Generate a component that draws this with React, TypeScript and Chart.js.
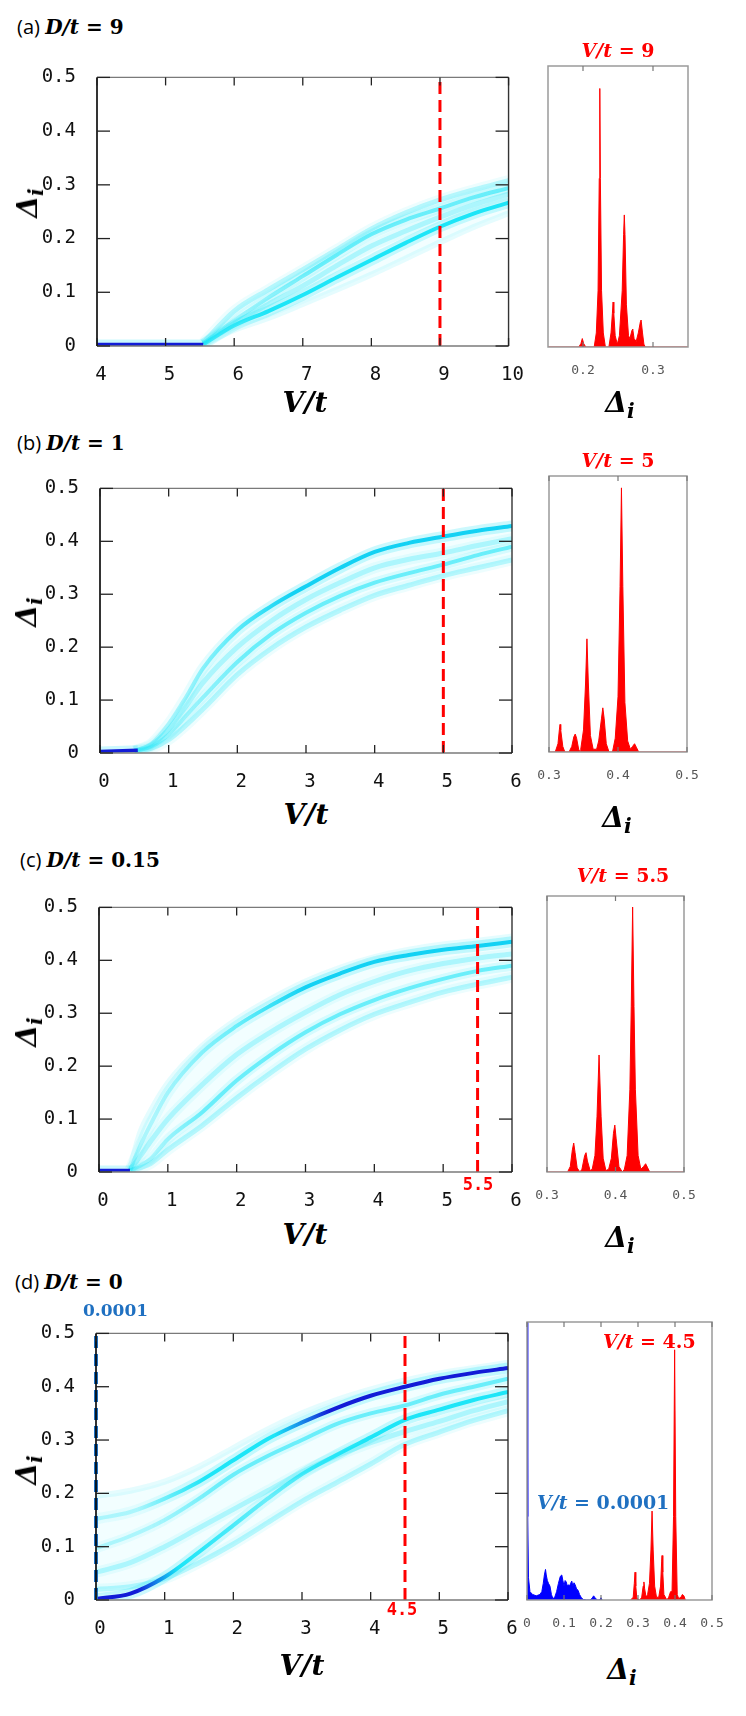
import { useEffect, useRef, type ReactNode } from 'react'
import { Chart, registerables, type Plugin } from 'chart.js'

Chart.register(...registerables)

const MONO = '"DejaVu Sans Mono", monospace'
const MATH = '"DejaVu Serif", serif'
const SANS = '"Open Sans", sans-serif'
const RED = '#ff0000'
const LABEL_BLUE = '#1f70c1'
const DEEP_BLUE = 'rgb(18, 28, 215)'

// ---------- ticks ----------
const MAIN_Y_TICKS = [0, 0.1, 0.2, 0.3, 0.4, 0.5]
const A_X_TICKS = [4, 5, 6, 7, 8, 9, 10]
const V_TICKS = [0, 1, 2, 3, 4, 5, 6]
const A_HIST_TICKS = [0.2, 0.3]
const BC_HIST_TICKS = [0.3, 0.4, 0.5]
const D_HIST_TICKS = [0, 0.1, 0.2, 0.3, 0.4, 0.5]

// ---------- (a) D/t = 9 ----------
const A_ZERO_V = [4, 5.55]
const A_ZERO = [0.003, 0.003]
const A_V = [5.55, 6, 6.5, 7, 7.5, 8, 8.5, 9, 9.5, 10]
const A_LOW = [0.003, 0.038, 0.065, 0.095, 0.128, 0.16, 0.192, 0.222, 0.247, 0.267]
const A_UP = [0.005, 0.047, 0.09, 0.13, 0.17, 0.208, 0.235, 0.256, 0.277, 0.294]
const A_MID = [0.004, 0.042, 0.078, 0.112, 0.15, 0.186, 0.214, 0.24, 0.263, 0.283]
const A_TOP = [0.006, 0.065, 0.105, 0.142, 0.18, 0.218, 0.248, 0.272, 0.291, 0.308]
const A_BOT = [0.003, 0.03, 0.052, 0.078, 0.105, 0.133, 0.163, 0.193, 0.222, 0.247]
const A_HIST: [number, number][] = [
  [0.15, 0], [0.194, 0], [0.197, 0.012], [0.199, 0.03], [0.201, 0.012], [0.204, 0],
  [0.216, 0], [0.219, 0.05], [0.2215, 0.2], [0.2232, 0.6], [0.224, 0.92], [0.2248, 0.6], [0.2265, 0.2], [0.229, 0.05], [0.232, 0],
  [0.237, 0], [0.24, 0.05], [0.242, 0.12], [0.243, 0.16], [0.244, 0.12], [0.246, 0.04], [0.249, 0.01],
  [0.252, 0.04], [0.256, 0.2], [0.258, 0.4], [0.259, 0.47], [0.26, 0.4], [0.262, 0.15], [0.265, 0.04],
  [0.267, 0.03], [0.27, 0.06], [0.271, 0.064], [0.273, 0.03], [0.276, 0.02], [0.279, 0.05], [0.282, 0.09],
  [0.283, 0.096], [0.285, 0.05], [0.287, 0.01], [0.289, 0], [0.35, 0],
]

// ---------- (b) D/t = 1 ----------
const B_ZERO_V = [0, 0.55]
const B_ZERO = [0.003, 0.005]
const B_V = [0.5, 0.75, 1, 1.25, 1.5, 2, 2.5, 3, 3.5, 4, 4.5, 5, 5.5, 6]
const B_UP = [0.004, 0.018, 0.055, 0.105, 0.16, 0.232, 0.278, 0.315, 0.35, 0.38, 0.397, 0.409, 0.42, 0.429]
const B_LOW = [0.004, 0.012, 0.035, 0.07, 0.105, 0.172, 0.225, 0.265, 0.297, 0.322, 0.34, 0.356, 0.374, 0.39]
const B_MID = [0.004, 0.015, 0.045, 0.088, 0.133, 0.2, 0.25, 0.29, 0.322, 0.35, 0.366, 0.378, 0.392, 0.405]
const B_BOT = [0.003, 0.009, 0.025, 0.052, 0.083, 0.148, 0.198, 0.238, 0.27, 0.298, 0.317, 0.335, 0.35, 0.365]
const B_HIST: [number, number][] = [
  [0.3, 0], [0.309, 0], [0.313, 0.03], [0.315, 0.08], [0.316, 0.1], [0.317, 0.08], [0.32, 0.02], [0.323, 0],
  [0.329, 0], [0.333, 0.02], [0.336, 0.055], [0.338, 0.065], [0.34, 0.05], [0.343, 0.01], [0.345, 0],
  [0.346, 0.01], [0.35, 0.08], [0.353, 0.25], [0.355, 0.41], [0.357, 0.25], [0.36, 0.06], [0.364, 0.01], [0.369, 0.01],
  [0.372, 0.04], [0.376, 0.12], [0.378, 0.16], [0.38, 0.12], [0.383, 0.03], [0.387, 0],
  [0.392, 0], [0.396, 0.05], [0.4, 0.2], [0.403, 0.6], [0.405, 0.957], [0.407, 0.6], [0.41, 0.18], [0.414, 0.04], [0.418, 0.01],
  [0.421, 0.02], [0.424, 0.03], [0.427, 0.015], [0.43, 0], [0.5, 0],
]

// ---------- (c) D/t = 0.15 ----------
const C_ZERO_V = [0, 0.45]
const C_ZERO = [0.003, 0.003]
const C_V = [0.45, 0.6, 0.75, 1, 1.5, 2, 2.5, 3, 3.5, 4, 4.5, 5, 5.5, 6]
const C_UP = [0.004, 0.05, 0.09, 0.15, 0.226, 0.276, 0.315, 0.349, 0.375, 0.397, 0.41, 0.42, 0.427, 0.435]
const C_LOW = [0.003, 0.012, 0.025, 0.062, 0.113, 0.173, 0.222, 0.264, 0.298, 0.325, 0.347, 0.365, 0.38, 0.39]
const C_MID = [0.004, 0.03, 0.058, 0.1, 0.165, 0.222, 0.265, 0.302, 0.335, 0.36, 0.38, 0.394, 0.404, 0.412]
const C_BOT = [0.002, 0.008, 0.016, 0.042, 0.088, 0.14, 0.188, 0.232, 0.268, 0.298, 0.32, 0.34, 0.355, 0.368]
const C_TOP = [0.006, 0.075, 0.115, 0.168, 0.238, 0.288, 0.327, 0.36, 0.386, 0.406, 0.42, 0.43, 0.437, 0.445]
const C_HIST: [number, number][] = [
  [0.3, 0], [0.33, 0], [0.334, 0.02], [0.337, 0.08], [0.339, 0.105], [0.341, 0.07], [0.344, 0.015], [0.348, 0],
  [0.351, 0.01], [0.355, 0.06], [0.357, 0.07], [0.359, 0.04], [0.363, 0.005], [0.366, 0.01],
  [0.37, 0.06], [0.373, 0.2], [0.376, 0.424], [0.379, 0.2], [0.382, 0.05], [0.386, 0.005], [0.39, 0.01],
  [0.394, 0.05], [0.397, 0.14], [0.399, 0.17], [0.401, 0.12], [0.405, 0.02], [0.41, 0],
  [0.413, 0.01], [0.417, 0.06], [0.421, 0.3], [0.423, 0.6], [0.425, 0.96], [0.427, 0.6], [0.429, 0.3], [0.433, 0.06], [0.437, 0.01],
  [0.441, 0.02], [0.444, 0.03], [0.447, 0.015], [0.45, 0], [0.5, 0],
]

// ---------- (d) D/t = 0 ----------
const D_V = [0, 0.5, 1, 1.5, 2, 2.5, 3, 3.5, 4, 4.5, 5, 5.5, 6]
const D_UP = [0.152, 0.165, 0.19, 0.222, 0.262, 0.302, 0.333, 0.36, 0.383, 0.4, 0.415, 0.426, 0.435]
const D_LOW = [0.002, 0.012, 0.043, 0.09, 0.14, 0.19, 0.236, 0.272, 0.305, 0.338, 0.357, 0.375, 0.39]
const D_MID1 = [0.097, 0.12, 0.15, 0.19, 0.235, 0.27, 0.3, 0.33, 0.35, 0.365, 0.385, 0.4, 0.415]
const D_MID2 = [0.052, 0.07, 0.1, 0.135, 0.17, 0.205, 0.24, 0.27, 0.295, 0.316, 0.335, 0.355, 0.372]
const D_BOT = [0.02, 0.025, 0.04, 0.07, 0.105, 0.145, 0.185, 0.22, 0.255, 0.292, 0.315, 0.337, 0.355]
const D_TOP = [0.195, 0.205, 0.222, 0.25, 0.285, 0.32, 0.35, 0.375, 0.395, 0.412, 0.425, 0.435, 0.445]
const D_HIST_RED: [number, number][] = [
  [0.28, 0], [0.287, 0.01], [0.29, 0.06], [0.292, 0.1], [0.294, 0.05], [0.297, 0.005], [0.305, 0],
  [0.31, 0.01], [0.314, 0.05], [0.316, 0.065], [0.318, 0.04], [0.322, 0.01], [0.326, 0.02],
  [0.331, 0.06], [0.335, 0.18], [0.338, 0.32], [0.341, 0.18], [0.345, 0.05], [0.35, 0.01], [0.356, 0.01],
  [0.361, 0.05], [0.364, 0.14], [0.365, 0.16], [0.367, 0.1], [0.37, 0.02], [0.378, 0],
  [0.383, 0.01], [0.388, 0.03], [0.392, 0.03], [0.396, 0.3], [0.399, 0.9], [0.402, 0.3], [0.406, 0.02], [0.41, 0.005],
  [0.416, 0.01], [0.42, 0.02], [0.424, 0.015], [0.428, 0],
]
const D_HIST_BLUE: [number, number][] = [
  [0, 1.0], [0.002, 0.3], [0.004, 0.08], [0.008, 0.03], [0.015, 0.02], [0.025, 0.015], [0.035, 0.02],
  [0.04, 0.03], [0.044, 0.06], [0.047, 0.09], [0.05, 0.11], [0.052, 0.09], [0.055, 0.07], [0.058, 0.06],
  [0.062, 0.05], [0.066, 0.02], [0.07, 0.005], [0.075, 0.01], [0.08, 0.03], [0.085, 0.06], [0.09, 0.085],
  [0.094, 0.09], [0.097, 0.07], [0.1, 0.05], [0.103, 0.07], [0.106, 0.065], [0.109, 0.05], [0.112, 0.055],
  [0.115, 0.05], [0.118, 0.06], [0.121, 0.068], [0.124, 0.05], [0.127, 0.062], [0.13, 0.055], [0.134, 0.04],
  [0.138, 0.035], [0.142, 0.02], [0.147, 0.008], [0.152, 0.002], [0.16, 0], [0.17, 0], [0.176, 0.006],
  [0.18, 0.015], [0.184, 0.008], [0.19, 0], [0.196, 0], [0.2, 0.008], [0.203, 0],
]

// ---------- styles ----------
type Kind = 'blue' | 'deep' | 'bright' | 'medium' | 'faint' | 'ghost'
// ramp: intensity stops along V/t, turned into a horizontal gradient
type Band = { v: number[]; d: number[]; kind: Kind; ramp?: [number, Kind][] }
type Box = { left: number; top: number; right: number; bottom: number }
type Marker = { x: number; color: string; width?: number }

const KIND_STYLE: Record<Kind, { core: string; width: number; halo?: string; haloWidth?: number }> = {
  blue: { core: DEEP_BLUE, width: 3.5, halo: 'rgba(0, 222, 245, 0.2)', haloWidth: 10 },
  deep: { core: 'rgba(0, 205, 242, 0.9)', width: 4, halo: 'rgba(0, 222, 245, 0.2)', haloWidth: 11 },
  bright: { core: 'rgba(0, 226, 246, 0.85)', width: 4, halo: 'rgba(0, 226, 246, 0.2)', haloWidth: 11 },
  medium: { core: 'rgba(0, 226, 246, 0.5)', width: 4, halo: 'rgba(0, 226, 246, 0.12)', haloWidth: 10 },
  faint: { core: 'rgba(0, 226, 246, 0.24)', width: 5, halo: 'rgba(0, 226, 246, 0.07)', haloWidth: 11 },
  ghost: { core: 'rgba(0, 226, 246, 0.1)', width: 6 },
}
const FAN_FILL = 'rgba(0, 226, 246, 0.05)'

const PAD_T = 14
const PAD_R = 16
const X_AXIS_H = 44
const H_PAD = 22
const H_PAD_T = 6
const H_AXIS_H = 30

const fmt = (v: number) => (v === 0 ? '0' : Number.isInteger(v) ? String(v) : v.toFixed(1))

function line(ctx: CanvasRenderingContext2D, x1: number, y1: number, x2: number, y2: number) {
  ctx.beginPath()
  ctx.moveTo(x1, y1)
  ctx.lineTo(x2, y2)
  ctx.stroke()
}

function rampColor(ramp: [number, Kind][], pick: (k: Kind) => string, fallback: string) {
  return (c: any) => {
    const chart = c.chart
    const area = chart.chartArea
    if (!area) return fallback
    const xs = chart.scales.x
    const g = chart.ctx.createLinearGradient(area.left, 0, area.right, 0)
    for (const [v, k] of ramp) {
      const t = (xs.getPixelForValue(v) - area.left) / (area.right - area.left)
      g.addColorStop(Math.min(1, Math.max(0, t)), pick(k))
    }
    return g
  }
}

function mainFrame(xTicks: number[]): Plugin<'scatter'> {
  return {
    id: 'mainFrame',
    afterDraw(chart) {
      const { ctx, chartArea: a, scales } = chart
      ctx.save()
      ctx.lineWidth = 1.4
      ctx.strokeStyle = '#7a7a7a'
      line(ctx, a.left, a.top, a.right, a.top)
      line(ctx, a.left, a.bottom, a.right, a.bottom)
      ctx.strokeStyle = '#333'
      line(ctx, a.right, a.top, a.right, a.bottom)
      ctx.strokeStyle = '#000'
      ctx.lineWidth = 1.6
      line(ctx, a.left, a.top, a.left, a.bottom)
      ctx.lineWidth = 1.3
      ctx.strokeStyle = '#222'
      for (const v of xTicks) {
        const px = scales.x.getPixelForValue(v)
        line(ctx, px, a.bottom, px, a.bottom - 8)
        line(ctx, px, a.top, px, a.top + 8)
      }
      for (const v of MAIN_Y_TICKS) {
        const py = scales.y.getPixelForValue(v)
        line(ctx, a.left, py, a.left + 13, py)
        line(ctx, a.right, py, a.right - 13, py)
      }
      ctx.restore()
    },
  }
}

function histFrame(ticks: number[]): Plugin<'scatter'> {
  return {
    id: 'histFrame',
    afterDraw(chart) {
      const { ctx, chartArea: a, scales } = chart
      ctx.save()
      ctx.lineWidth = 1.5
      ctx.strokeStyle = '#9a9a9a'
      ctx.strokeRect(a.left, a.top, a.right - a.left, a.bottom - a.top)
      ctx.strokeStyle = '#777'
      ctx.lineWidth = 1.2
      for (const v of ticks) {
        const px = scales.x.getPixelForValue(v)
        line(ctx, px, a.top, px, a.top + 5)
        line(ctx, px, a.bottom, px, a.bottom - 5)
      }
      ctx.restore()
    },
  }
}

const pts = (v: number[], d: number[]) => v.map((x, i) => ({ x, y: d[i] }))

function MainPlot({
  box, xMin, xMax, xTicks, bands, fan, markers,
}: {
  box: Box; xMin: number; xMax: number; xTicks: number[]; bands: Band[]
  fan: { v: number[]; upper: number[]; lower: number[] }; markers: Marker[]
}) {
  const ref = useRef<HTMLCanvasElement>(null)
  const width = box.right + PAD_R
  const height = box.bottom - box.top + PAD_T + X_AXIS_H

  useEffect(() => {
    const canvas = ref.current
    if (!canvas) return
    const markerSets = markers.map((m) => ({
      data: [{ x: m.x, y: 0 }, { x: m.x, y: 0.5 }],
      showLine: true,
      borderColor: m.color,
      borderWidth: m.width ?? 3,
      borderDash: [12, 6],
      pointRadius: 0,
      fill: false,
      clip: 8,
    }))
    const cores = bands.map((b) => {
      const s = KIND_STYLE[b.kind]
      return {
        data: pts(b.v, b.d),
        showLine: true,
        borderColor: b.ramp ? rampColor(b.ramp, (k) => KIND_STYLE[k].core, s.core) : s.core,
        borderWidth: s.width,
        pointRadius: 0,
        fill: false,
        cubicInterpolationMode: 'monotone' as const,
      }
    })
    const halos = bands
      .filter((b) => KIND_STYLE[b.kind].halo)
      .map((b) => {
        const s = KIND_STYLE[b.kind]
        return {
          data: pts(b.v, b.d),
          showLine: true,
          borderColor: b.ramp
            ? rampColor(b.ramp, (k) => KIND_STYLE[k].halo ?? 'rgba(0, 226, 246, 0.04)', s.halo!)
            : s.halo,
          borderWidth: s.haloWidth,
          pointRadius: 0,
          fill: false,
          cubicInterpolationMode: 'monotone' as const,
        }
      })
    const envelope = [
      {
        data: pts(fan.v, fan.upper),
        showLine: true,
        borderWidth: 0,
        borderColor: 'rgba(0,0,0,0)',
        backgroundColor: FAN_FILL,
        pointRadius: 0,
        fill: '+1',
        cubicInterpolationMode: 'monotone' as const,
      },
      {
        data: pts(fan.v, fan.lower),
        showLine: true,
        borderWidth: 0,
        borderColor: 'rgba(0,0,0,0)',
        pointRadius: 0,
        fill: false,
        cubicInterpolationMode: 'monotone' as const,
      },
    ]

    const chart = new Chart(canvas, {
      type: 'scatter',
      data: { datasets: [...markerSets, ...cores, ...halos, ...envelope] as any },
      options: {
        responsive: false,
        animation: false,
        events: [],
        layout: { padding: { top: PAD_T, right: PAD_R, bottom: 0, left: 0 } },
        plugins: { legend: { display: false }, tooltip: { enabled: false } },
        scales: {
          x: {
            type: 'linear',
            min: xMin,
            max: xMax,
            border: { display: false },
            grid: { display: false },
            afterBuildTicks: (s: any) => {
              s.ticks = xTicks.map((value) => ({ value }))
            },
            afterFit: (s: any) => {
              s.height = X_AXIS_H
            },
            ticks: {
              autoSkip: false,
              maxRotation: 0,
              padding: 10,
              labelOffset: 4,
              color: '#111',
              font: { family: MONO, size: 19 },
              callback: (v: any) => fmt(Number(v)),
            },
          },
          y: {
            type: 'linear',
            min: 0,
            max: 0.5,
            border: { display: false },
            grid: { display: false },
            afterBuildTicks: (s: any) => {
              s.ticks = MAIN_Y_TICKS.map((value) => ({ value }))
            },
            afterFit: (s: any) => {
              s.width = box.left
            },
            ticks: {
              autoSkip: false,
              padding: 13,
              color: '#111',
              font: { family: MONO, size: 19 },
              callback: (v: any) => fmt(Number(v)),
            },
          },
        },
      },
      plugins: [mainFrame(xTicks)],
    })
    return () => chart.destroy()
  }, [])

  return (
    <canvas
      ref={ref}
      width={width}
      height={height}
      style={{ position: 'absolute', left: 0, top: box.top - PAD_T, width, height, display: 'block' }}
    />
  )
}

function HistPlot({
  box, xMin, xMax, ticks, series,
}: {
  box: Box; xMin: number; xMax: number; ticks: number[]; series: { points: [number, number][]; color: string }[]
}) {
  const ref = useRef<HTMLCanvasElement>(null)
  const width = box.right - box.left + 2 * H_PAD
  const height = box.bottom - box.top + H_PAD_T + H_AXIS_H

  useEffect(() => {
    const canvas = ref.current
    if (!canvas) return
    const chart = new Chart(canvas, {
      type: 'scatter',
      data: {
        datasets: series.map((s) => ({
          data: s.points.map(([x, y]) => ({ x, y })),
          showLine: true,
          borderColor: s.color,
          borderWidth: 1,
          backgroundColor: s.color,
          pointRadius: 0,
          tension: 0,
          fill: 'origin',
        })) as any,
      },
      options: {
        responsive: false,
        animation: false,
        events: [],
        layout: { padding: { top: H_PAD_T, right: H_PAD, bottom: 0, left: H_PAD } },
        plugins: { legend: { display: false }, tooltip: { enabled: false } },
        scales: {
          x: {
            type: 'linear',
            min: xMin,
            max: xMax,
            border: { display: false },
            grid: { display: false },
            afterBuildTicks: (s: any) => {
              s.ticks = ticks.map((value) => ({ value }))
            },
            afterFit: (s: any) => {
              s.height = H_AXIS_H
            },
            ticks: {
              autoSkip: false,
              maxRotation: 0,
              padding: 8,
              color: '#555',
              font: { family: MONO, size: 13 },
              callback: (v: any) => fmt(Number(v)),
            },
          },
          y: { display: false, min: 0, max: 1 },
        },
      },
      plugins: [histFrame(ticks)],
    })
    return () => chart.destroy()
  }, [])

  return (
    <canvas
      ref={ref}
      width={width}
      height={height}
      style={{ position: 'absolute', left: box.left - H_PAD, top: box.top - H_PAD_T, width, height, display: 'block' }}
    />
  )
}

// ---------- text ----------
function Text({
  x, y, center = true, rotate = false, style, children,
}: { x: number; y: number; center?: boolean; rotate?: boolean; style?: React.CSSProperties; children: ReactNode }) {
  return (
    <div
      style={{
        position: 'absolute',
        left: x,
        top: y,
        transform: `translate(${center ? '-50%' : '0'}, -50%)${rotate ? ' rotate(-90deg)' : ''}`,
        whiteSpace: 'nowrap',
        lineHeight: 1,
        ...style,
      }}
    >
      {children}
    </div>
  )
}

function Eq({ it, rest, size, color = '#000' }: { it: string; rest: string; size: number; color?: string }) {
  return (
    <span style={{ fontFamily: MATH, fontWeight: 700, fontSize: size, color }}>
      <i>{it}</i>
      {rest}
    </span>
  )
}

function Delta({ size }: { size: number }) {
  return (
    <span style={{ fontFamily: MATH, fontWeight: 700, fontStyle: 'italic', fontSize: size }}>
      Δ<span style={{ fontSize: '0.72em', position: 'relative', top: '0.3em' }}>i</span>
    </span>
  )
}

function PanelTitle({ x, y, tag, value }: { x: number; y: number; tag: string; value: string }) {
  return (
    <Text x={x} y={y} center={false}>
      <span style={{ fontFamily: SANS, fontSize: 20 }}>({tag}) </span>
      <Eq it="D/t" rest={` = ${value}`} size={20} />
    </Text>
  )
}

// ---------- layout ----------
const A_MAIN: Box = { left: 97, top: 67, right: 514, bottom: 346 }
const A_HBOX: Box = { left: 548, top: 66, right: 688, bottom: 347 }
const B_MAIN: Box = { left: 100, top: 478, right: 512, bottom: 753 }
const B_HBOX: Box = { left: 549, top: 476, right: 687, bottom: 752 }
const C_MAIN: Box = { left: 99, top: 897, right: 512, bottom: 1172 }
const C_HBOX: Box = { left: 547, top: 896, right: 684, bottom: 1172 }
const D_MAIN: Box = { left: 96, top: 1323, right: 508, bottom: 1600 }
const D_HBOX: Box = { left: 527, top: 1322, right: 712, bottom: 1600 }

export default function App() {
  return (
    <div style={{ position: 'relative', width: 746, height: 1716, overflow: 'hidden', background: '#fff' }}>
      <style>{'body{margin:0}'}</style>

      {/* (a) */}
      <PanelTitle x={17} y={27} tag="a" value="9" />
      <MainPlot
        box={A_MAIN}
        xMin={4}
        xMax={10}
        xTicks={A_X_TICKS}
        markers={[{ x: 9, color: RED }]}
        bands={[
          { v: A_ZERO_V, d: A_ZERO, kind: 'blue' },
          { v: A_V, d: A_LOW, kind: 'bright', ramp: [[5.6, 'medium'], [6.5, 'bright']] },
          { v: A_V, d: A_UP, kind: 'medium', ramp: [[6, 'faint'], [7.2, 'medium']] },
          { v: A_V, d: A_MID, kind: 'faint' },
          { v: A_V, d: A_TOP, kind: 'faint' },
          { v: A_V, d: A_BOT, kind: 'ghost' },
        ]}
        fan={{ v: A_V, upper: A_TOP, lower: A_BOT }}
      />
      <HistPlot box={A_HBOX} xMin={0.15} xMax={0.35} ticks={A_HIST_TICKS} series={[{ points: A_HIST, color: RED }]} />
      <Text x={618} y={50}><Eq it="V/t" rest=" = 9" size={19} color={RED} /></Text>
      <Text x={305} y={403}><Eq it="V/t" rest="" size={28} /></Text>
      <Text x={620} y={403}><Delta size={28} /></Text>
      <Text x={28} y={203} rotate><Delta size={28} /></Text>

      {/* (b) */}
      <PanelTitle x={17} y={443} tag="b" value="1" />
      <MainPlot
        box={B_MAIN}
        xMin={0}
        xMax={6}
        xTicks={V_TICKS}
        markers={[{ x: 5, color: RED }]}
        bands={[
          { v: B_ZERO_V, d: B_ZERO, kind: 'blue' },
          { v: B_V, d: B_UP, kind: 'deep', ramp: [[1, 'faint'], [1.8, 'medium'], [2.8, 'deep']] },
          { v: B_V, d: B_LOW, kind: 'medium', ramp: [[1, 'faint'], [2.2, 'medium']] },
          { v: B_V, d: B_MID, kind: 'faint' },
          { v: B_V, d: B_BOT, kind: 'faint' },
        ]}
        fan={{ v: B_V, upper: B_UP, lower: B_BOT }}
      />
      <HistPlot box={B_HBOX} xMin={0.3} xMax={0.5} ticks={BC_HIST_TICKS} series={[{ points: B_HIST, color: RED }]} />
      <Text x={618} y={460}><Eq it="V/t" rest=" = 5" size={19} color={RED} /></Text>
      <Text x={306} y={815}><Eq it="V/t" rest="" size={28} /></Text>
      <Text x={617} y={818}><Delta size={28} /></Text>
      <Text x={27} y={612} rotate><Delta size={28} /></Text>

      {/* (c) */}
      <PanelTitle x={20} y={860} tag="c" value="0.15" />
      <MainPlot
        box={C_MAIN}
        xMin={0}
        xMax={6}
        xTicks={V_TICKS}
        markers={[{ x: 5.5, color: RED }]}
        bands={[
          { v: C_ZERO_V, d: C_ZERO, kind: 'blue' },
          { v: C_V, d: C_UP, kind: 'deep', ramp: [[0.8, 'faint'], [2, 'medium'], [3, 'deep']] },
          { v: C_V, d: C_LOW, kind: 'medium', ramp: [[0.8, 'faint'], [1.5, 'medium']] },
          { v: C_V, d: C_MID, kind: 'faint' },
          { v: C_V, d: C_BOT, kind: 'faint' },
          { v: C_V, d: C_TOP, kind: 'ghost' },
        ]}
        fan={{ v: C_V, upper: C_TOP, lower: C_BOT }}
      />
      <HistPlot box={C_HBOX} xMin={0.3} xMax={0.5} ticks={BC_HIST_TICKS} series={[{ points: C_HIST, color: RED }]} />
      <Text x={623} y={875}><Eq it="V/t" rest=" = 5.5" size={19} color={RED} /></Text>
      <Text x={478} y={1184} style={{ fontFamily: MONO, fontWeight: 700, fontSize: 17, color: RED }}>5.5</Text>
      <Text x={305} y={1235}><Eq it="V/t" rest="" size={28} /></Text>
      <Text x={620} y={1238}><Delta size={28} /></Text>
      <Text x={27} y={1032} rotate><Delta size={28} /></Text>

      {/* (d) */}
      <PanelTitle x={15} y={1282} tag="d" value="0" />
      <MainPlot
        box={D_MAIN}
        xMin={0}
        xMax={6}
        xTicks={V_TICKS}
        markers={[
          { x: 4.5, color: RED },
          { x: 0.0001, color: LABEL_BLUE, width: 4 },
        ]}
        bands={[
          { v: D_V, d: D_UP, kind: 'bright', ramp: [[0.6, 'faint'], [1.6, 'bright'], [2.6, 'bright'], [3.4, 'blue']] },
          { v: D_V, d: D_LOW, kind: 'bright', ramp: [[0.6, 'blue'], [1.2, 'bright'], [2.5, 'medium'], [4, 'bright']] },
          { v: D_V, d: D_MID1, kind: 'medium', ramp: [[0.8, 'faint'], [1.8, 'medium']] },
          { v: D_V, d: D_MID2, kind: 'faint' },
          { v: D_V, d: D_BOT, kind: 'faint' },
          { v: D_V, d: D_TOP, kind: 'ghost' },
        ]}
        fan={{ v: D_V, upper: D_TOP, lower: D_BOT }}
      />
      <HistPlot
        box={D_HBOX}
        xMin={0}
        xMax={0.5}
        ticks={D_HIST_TICKS}
        series={[
          { points: D_HIST_RED, color: RED },
          { points: D_HIST_BLUE, color: '#0000ff' },
        ]}
      />
      <Text x={83} y={1310} center={false} style={{ fontFamily: MATH, fontWeight: 700, fontSize: 17, color: LABEL_BLUE }}>0.0001</Text>
      <Text x={402} y={1609} style={{ fontFamily: MONO, fontWeight: 700, fontSize: 17, color: RED }}>4.5</Text>
      <Text x={603} y={1341} center={false}><Eq it="V/t" rest=" = 4.5" size={19} color={RED} /></Text>
      <Text x={537} y={1502} center={false}><Eq it="V/t" rest=" = 0.0001" size={19} color={LABEL_BLUE} /></Text>
      <Text x={302} y={1666}><Eq it="V/t" rest="" size={28} /></Text>
      <Text x={622} y={1670}><Delta size={28} /></Text>
      <Text x={27} y={1470} rotate><Delta size={28} /></Text>
    </div>
  )
}
